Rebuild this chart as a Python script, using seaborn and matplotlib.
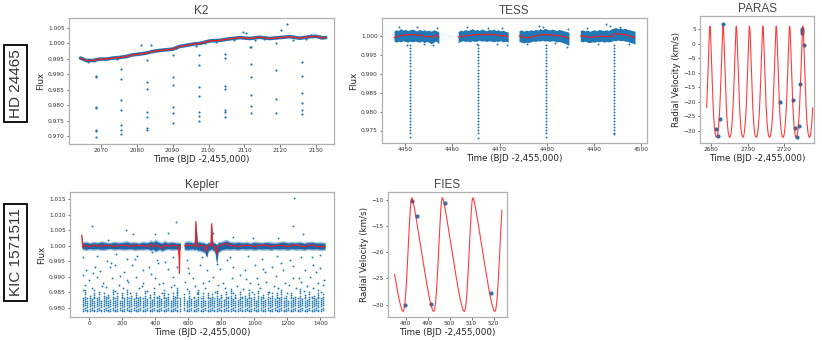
import numpy as np
import pandas as pd
import seaborn as sns
import matplotlib.pyplot as plt

sns.set_style("white")
plt.rcParams['font.family'] = ['DejaVu Sans']

BLUE = '#1f77b4'
CORE = '#1f64a6'
RED = '#ff1a1a'

# ---------------- K2 (HD 24465) ----------------
k2_trend_t = [2064.4, 2066.0, 2067.9, 2069.7, 2071.6, 2073.4, 2075.3, 2077.1, 2079.0, 2080.8, 2082.7,
              2084.5, 2086.4, 2088.3, 2090.1, 2092.0, 2093.8, 2095.7, 2097.6, 2100.3, 2103.1, 2105.9,
              2108.7, 2111.5, 2114.2, 2117.0, 2119.8, 2122.6, 2125.4, 2128.2, 2130.0, 2131.5, 2132.6]
k2_trend_f = [0.99525, 0.99447, 0.99447, 0.99492, 0.99492, 0.99525, 0.99545, 0.99577, 0.99632, 0.99655, 0.99687,
              0.9974, 0.99773, 0.99795, 0.99817, 0.99903, 0.99935, 0.9998, 1.0000, 1.0008, 1.0010, 1.0015,
              1.0019, 1.0016, 1.0020, 1.0016, 1.0019, 1.0022, 1.0017, 1.0022, 1.0023, 1.0018, 1.0019]
k2_scatter_t = [2065.0, 2066.5, 2068.2, 2072.0, 2074.5, 2078.3, 2081.1, 2084.1, 2087.0, 2091.0, 2094.0, 2096.5,
                2099.0, 2102.0, 2104.0, 2107.0, 2109.6, 2110.3, 2111.6, 2113.0, 2115.5, 2118.9, 2120.1, 2121.9,
                2123.5, 2125.0, 2127.0, 2128.6, 2131.0]
k2_scatter_f = [0.9951, 0.9941, 0.9942, 0.9953, 0.9949, 0.9962, 0.99935, 0.9994, 0.9979, 0.9985, 0.9997, 0.9992,
                1.0003, 1.0005, 1.0013, 1.0012, 1.0037, 1.0034, 0.9987, 1.0012, 1.0015, 1.0003, 1.0045, 1.0064,
                1.0012, 1.0021, 1.0014, 1.0026, 1.0023]
k2_ecl_t = [2068.6, 2075.8, 2083.0, 2090.1, 2097.4, 2104.5, 2111.7, 2118.9, 2126.0]
k2_ecl_f = [[0.9895, 0.9891, 0.9793, 0.9790, 0.9719, 0.9716, 0.96955],
            [0.99167, 0.98852, 0.9817, 0.97844, 0.97345, 0.97194, 0.97053],
            [0.99449, 0.98744, 0.98516, 0.97768, 0.97627, 0.97248, 0.97204],
            [0.99611, 0.98917, 0.98657, 0.97942, 0.97758, 0.97432],
            [0.99622, 0.99308, 0.98603, 0.98289, 0.9779, 0.97649, 0.97497],
            [0.99665, 0.99524, 0.98625, 0.98516, 0.97844, 0.9779, 0.97606],
            [0.99871, 0.9934, 0.98907, 0.98332, 0.97974, 0.97758],
            [0.99145, 0.98213, 0.97758],
            [0.99383, 0.9894, 0.98386, 0.98083, 0.97833, 0.97714]]

# ---------------- TESS (HD 24465) ----------------
tess_seg_t = [[4447.6, 4448.0, 4448.5, 4449.0, 4449.5, 4450.0, 4450.5, 4451.0, 4451.5, 4452.0, 4452.5, 4453.0,
               4453.5, 4454.0, 4454.5, 4455.0, 4455.5, 4456.0, 4456.5, 4457.1],
              [4461.2, 4461.7, 4462.2, 4462.7, 4463.2, 4463.7, 4464.2, 4464.7, 4465.2, 4465.7, 4466.2, 4466.7,
               4467.2, 4467.7, 4468.2, 4468.7, 4469.2, 4469.7, 4470.2, 4470.7, 4471.2, 4471.8],
              [4474.1, 4474.6, 4475.1, 4475.6, 4476.1, 4476.6, 4477.1, 4477.6, 4478.1, 4478.6, 4479.1, 4479.6,
               4480.1, 4480.6, 4481.1, 4481.6, 4482.1, 4482.6, 4483.1, 4483.6, 4484.1, 4484.7],
              [4487.1, 4487.6, 4488.1, 4488.6, 4489.1, 4489.6, 4490.1, 4490.6, 4491.1, 4491.6, 4492.1, 4492.6,
               4493.1, 4493.6, 4494.1, 4494.6, 4495.1, 4495.6, 4496.1, 4496.6, 4497.1, 4497.6, 4498.1, 4498.7]]
tess_seg_up = [[1.0012, 1.0016, 1.0014, 1.0019, 1.0015, 1.0017, 1.0014, 1.0016, 1.0018, 1.0015, 1.0013, 1.0017,
                1.0014, 1.0016, 1.0013, 1.0015, 1.0012, 1.0016, 1.0014, 1.0010],
               [1.0011, 1.0015, 1.0013, 1.0017, 1.0014, 1.0016, 1.0019, 1.0015, 1.0017, 1.0014, 1.0018, 1.0016,
                1.0013, 1.0017, 1.0015, 1.0018, 1.0014, 1.0016, 1.0013, 1.0015, 1.0012, 1.0010],
               [1.0013, 1.0016, 1.0012, 1.0015, 1.0013, 1.0016, 1.0014, 1.0017, 1.0015, 1.0019, 1.0016, 1.0020,
                1.0017, 1.0015, 1.0018, 1.0016, 1.0014, 1.0017, 1.0015, 1.0013, 1.0012, 1.0009],
               [1.0014, 1.0016, 1.0013, 1.0015, 1.0012, 1.0014, 1.0016, 1.0013, 1.0017, 1.0015, 1.0014, 1.0016,
                1.0014, 1.0018, 1.0020, 1.0022, 1.0019, 1.0021, 1.0018, 1.0020, 1.0017, 1.0016, 1.0014, 1.0012]]
tess_seg_lo = [[0.9986, 0.9983, 0.9986, 0.9984, 0.9987, 0.9985, 0.9983, 0.9986, 0.9984, 0.9986, 0.9985, 0.9983,
                0.9986, 0.9982, 0.9985, 0.9983, 0.9979, 0.9983, 0.9986, 0.9979],
               [0.9982, 0.9985, 0.9987, 0.9985, 0.9986, 0.9984, 0.9987, 0.9985, 0.9986, 0.9988, 0.9986, 0.9987,
                0.9985, 0.9987, 0.9986, 0.9984, 0.9986, 0.9985, 0.9987, 0.9984, 0.9986, 0.9983],
               [0.9985, 0.9983, 0.9981, 0.9983, 0.9982, 0.9984, 0.9986, 0.9985, 0.9987, 0.9986, 0.9988, 0.9986,
                0.9987, 0.9985, 0.9987, 0.9986, 0.9984, 0.9985, 0.9983, 0.9981, 0.9978, 0.9975],
               [0.9985, 0.9984, 0.9986, 0.9983, 0.9982, 0.9984, 0.9983, 0.9985, 0.9984, 0.9986, 0.9983, 0.9985,
                0.9984, 0.9985, 0.9988, 0.9987, 0.9989, 0.9987, 0.9988, 0.9986, 0.9985, 0.9983, 0.9981, 0.9978]]
tess_out_t = [4448.6, 4450.3, 4452.4, 4453.9, 4455.8, 4456.7, 4463.0, 4465.1, 4467.6, 4469.4, 4470.6, 4471.5,
              4475.9, 4478.4, 4479.3, 4481.7, 4484.2, 4484.6, 4488.5, 4490.9, 4492.6, 4493.3, 4495.6, 4497.4]
tess_out_f = [1.0022, 0.9977, 1.0024, 0.9978, 0.9976, 1.0020, 1.0023, 0.9979, 1.0021, 0.9978, 1.0020, 0.9977,
              0.9979, 1.0025, 1.0022, 0.9980, 0.9971, 1.0019, 1.0021, 0.9978, 1.0030, 1.0027, 1.0024, 0.9978]
tess_model_t = [[4447.6, 4448.5, 4449.5, 4450.5, 4451.5, 4452.5, 4453.5, 4454.2, 4455.0, 4455.8, 4456.5, 4457.1],
                [4461.2, 4462.0, 4463.0, 4464.0, 4465.0, 4466.0, 4467.0, 4468.0, 4469.0, 4470.0, 4471.0, 4471.8],
                [4474.1, 4475.0, 4476.0, 4477.0, 4478.0, 4479.0, 4480.0, 4481.0, 4482.0, 4483.0, 4484.0, 4484.7],
                [4487.1, 4488.0, 4489.0, 4490.0, 4491.0, 4492.0, 4493.0, 4493.8, 4494.3, 4495.0, 4496.0, 4497.0,
                 4498.0, 4498.7]]
tess_model_f = [[0.9995, 0.9999, 1.0002, 1.0003, 1.0003, 1.0002, 1.0001, 0.9997, 0.9999, 0.9996, 1.0002, 0.9996],
                [0.9996, 0.9999, 1.0000, 1.0002, 1.0003, 1.0003, 1.0004, 1.0004, 1.0003, 1.0000, 1.0001, 0.9997],
                [1.0000, 0.9996, 0.9995, 0.9998, 1.0001, 1.0003, 1.0003, 1.0002, 1.0001, 0.9999, 0.9997, 0.9993],
                [1.0000, 0.9999, 0.9996, 0.9997, 0.9999, 0.9998, 0.9999, 0.9998, 1.0005, 1.0005, 1.0004, 1.0002,
                 0.9998, 0.9994]]
tess_dip_t = [4451.0, 4465.4, 4479.8, 4494.2]
tess_dip_min = [0.9733, 0.9731, 0.9734, 0.9742]
tess_dip_levels = [0.9975, 0.9967, 0.9959, 0.9951, 0.9943, 0.9935, 0.9927, 0.9919, 0.9911, 0.9903, 0.9895,
                   0.9887, 0.9879, 0.9871, 0.9863, 0.9855, 0.9847, 0.9839, 0.9831, 0.9823, 0.9815, 0.9807,
                   0.9799, 0.9791, 0.9783, 0.9775, 0.9767, 0.9759, 0.9751, 0.9744]

# ---------------- PARAS RVs (HD 24465) ----------------
paras_t = [2682.7, 2683.8, 2684.7, 2686.6, 2717.5, 2724.9, 2725.9, 2726.8, 2728.1, 2728.8, 2729.7, 2729.7,
           2729.7, 2730.6]
paras_rv = [-29.5, -31.7, -25.9, 6.7, -20.0, -19.4, -29.0, -32.3, -28.4, -14.0, 4.9, 4.3, 3.7, -0.4]
paras_peaks = [2672.2, 2679.4, 2686.6, 2693.8, 2701.0, 2708.3, 2715.6, 2722.9, 2730.1, 2737.3]
paras_cycle_dt = [-3.6, -3.24, -2.88, -2.52, -2.16, -1.8, -1.44, -1.08, -0.72, -0.36, -0.18, 0.0,
                  0.18, 0.36, 0.72, 1.08, 1.44, 1.8, 2.16, 2.52, 2.88, 3.24]
paras_cycle_rv = [-32.3, -31.9, -30.9, -28.9, -26.0, -22.0, -16.7, -10.1, -3.0, 3.4, 5.3, 6.0,
                  5.3, 3.4, -3.0, -10.1, -16.7, -22.0, -26.0, -28.9, -30.9, -31.9]
paras_span = [2677.6, 2735.6]

# ---------------- Kepler (KIC 1571511) ----------------
kep_band_t = [[-46, -40, -20, 0, 25, 50, 75, 100, 125, 150, 175, 200, 225, 250, 275, 300, 325, 350, 375, 385,
               400, 425, 440, 455, 475, 500, 525, 552],
              [575, 600, 625, 640, 645, 648, 655, 680, 700, 706, 712, 720, 735, 740, 743, 748, 760, 768, 772,
               780, 800, 830, 850, 875, 900, 925, 950, 975, 1000, 1025, 1050, 1075, 1100, 1125, 1150, 1175,
               1200, 1225, 1250, 1275, 1300, 1325, 1350, 1375, 1400, 1428]]
# outer (light) envelope of the dense band
kep_band_up = [[1.0040, 1.0014, 1.0016, 1.0012, 1.0015, 1.0013, 1.0017, 1.0014, 1.0012, 1.0016, 1.0013, 1.0015,
                1.0018, 1.0013, 1.0015, 1.0012, 1.0016, 1.0014, 1.0020, 1.0016, 1.0022, 1.0015, 1.0012, 1.0019,
                1.0014, 1.0016, 1.0013, 1.0012],
               [1.0015, 1.0018, 1.0014, 1.0016, 1.0080, 1.0060, 1.0017, 1.0015, 1.0012, 1.0008, 1.0010, 1.0014,
                1.0016, 1.0074, 1.0050, 1.0016, 1.0012, 1.0008, 1.0006, 1.0014, 1.0016, 1.0022, 1.0016, 1.0014,
                1.0016, 1.0013, 1.0015, 1.0012, 1.0016, 1.0014, 1.0013, 1.0016, 1.0014, 1.0012, 1.0015, 1.0017,
                1.0013, 1.0015, 1.0014, 1.0016, 1.0012, 1.0015, 1.0016, 1.0013, 1.0014, 1.0012]]
kep_band_lo = [[0.9992, 0.9986, 0.9984, 0.9987, 0.9985, 0.9987, 0.9984, 0.9986, 0.9988, 0.9985, 0.9987, 0.9985,
                0.9986, 0.9987, 0.9984, 0.9986, 0.9985, 0.9987, 0.9982, 0.9986, 0.9979, 0.9985, 0.9980, 0.9984,
                0.9987, 0.9985, 0.9986, 0.9984],
               [0.9985, 0.9984, 0.9986, 0.9983, 0.9986, 0.9985, 0.9982, 0.9980, 0.9975, 0.9968, 0.9962, 0.9980,
                0.9984, 0.9986, 0.9985, 0.9982, 0.9978, 0.9950, 0.9940, 0.9976, 0.9983, 0.9986, 0.9985, 0.9986,
                0.9984, 0.9987, 0.9985, 0.9986, 0.9984, 0.9987, 0.9985, 0.9986, 0.9984, 0.9987, 0.9985, 0.9986,
                0.9984, 0.9987, 0.9985, 0.9986, 0.9984, 0.9987, 0.9985, 0.9986, 0.9984, 0.9985]]
# dark core of the dense band
kep_core_up = [[1.0038, 1.0009, 1.0011, 1.0008, 1.0010, 1.0009, 1.0012, 1.0009, 1.0008, 1.0011, 1.0009, 1.0010,
                1.0012, 1.0009, 1.0010, 1.0008, 1.0011, 1.0009, 1.0014, 1.0011, 1.0016, 1.0010, 1.0008, 1.0013,
                1.0009, 1.0011, 1.0009, 1.0008],
               [1.0010, 1.0012, 1.0009, 1.0011, 1.0080, 1.0060, 1.0012, 1.0010, 1.0008, 1.0005, 1.0007, 1.0009,
                1.0011, 1.0074, 1.0050, 1.0011, 1.0008, 1.0005, 1.0004, 1.0009, 1.0011, 1.0016, 1.0011, 1.0009,
                1.0011, 1.0009, 1.0010, 1.0008, 1.0011, 1.0009, 1.0009, 1.0011, 1.0009, 1.0008, 1.0010, 1.0012,
                1.0009, 1.0010, 1.0009, 1.0011, 1.0008, 1.0010, 1.0011, 1.0009, 1.0009, 1.0008]]
kep_core_lo = [[0.9994, 0.9991, 0.9989, 0.9991, 0.9990, 0.9991, 0.9989, 0.9990, 0.9992, 0.9990, 0.9991, 0.9990,
                0.9990, 0.9991, 0.9989, 0.9990, 0.9990, 0.9991, 0.9987, 0.9990, 0.9984, 0.9990, 0.9985, 0.9989,
                0.9991, 0.9990, 0.9990, 0.9989],
               [0.9990, 0.9989, 0.9991, 0.9988, 0.9990, 0.9990, 0.9987, 0.9985, 0.9980, 0.9970, 0.9964, 0.9985,
                0.9989, 0.9990, 0.9990, 0.9987, 0.9983, 0.9955, 0.9943, 0.9981, 0.9988, 0.9991, 0.9990, 0.9991,
                0.9989, 0.9991, 0.9990, 0.9991, 0.9989, 0.9991, 0.9990, 0.9991, 0.9989, 0.9991, 0.9990, 0.9991,
                0.9989, 0.9991, 0.9990, 0.9991, 0.9989, 0.9991, 0.9990, 0.9991, 0.9989, 0.9990]]
kep_model_t = [[-46, -43, -38, -25, 0, 30, 60, 100, 150, 200, 250, 300, 350, 378, 385, 400, 420, 440, 455, 480,
                510, 538, 544, 546, 549, 552],
               [575, 600, 630, 642, 645, 649, 655, 680, 700, 706, 712, 725, 737, 741, 745, 755, 765, 771, 777,
                800, 830, 850, 900, 950, 1000, 1050, 1100, 1150, 1200, 1250, 1300, 1340, 1380, 1428]]
kep_model_f = [[1.0035, 1.0010, 0.9996, 1.0002, 0.9997, 1.0003, 0.9998, 1.0002, 0.9998, 1.0002, 0.9999, 1.0002,
                0.9998, 1.0005, 0.9996, 1.0002, 0.9999, 0.9992, 1.0003, 0.9998, 1.0002, 1.0000, 0.9960, 0.9911,
                0.9995, 1.0000],
               [1.0000, 1.0003, 0.9999, 1.0002, 1.0079, 1.0004, 0.9998, 1.0002, 0.9997, 0.9982, 0.9997, 1.0003,
                1.0001, 1.0072, 1.0001, 0.9996, 0.9990, 0.9975, 0.9998, 1.0003, 1.0008, 1.0001, 0.9998, 1.0002,
                0.9998, 1.0003, 0.9998, 1.0002, 0.9998, 1.0003, 0.9997, 1.0003, 0.9998, 0.9997]]
kep_hi_t = [18, 115, 222, 262, 400, 474, 525, 750, 872, 993, 1144, 1231, 1241, 1295]
kep_hi_f = [1.0063, 1.0019, 1.0051, 1.0037, 1.0037, 1.0040, 1.0076, 1.0043, 1.0029, 1.0024, 1.0024, 1.0065,
            1.0156, 1.0037]
kep_mid_t = [-36, 44, 109, 161, 226, 291, 377, 408, 508, 589, 680, 771, 851, 962, 1043, 1134, 1215, 1285, 1346, 1396,
             -20, 34, 65, 125, 155, 210, 256, 327, 363, 418, 478, 529, 599, 670, 714, 791, 872, 942, 1003, 1053,
             1104, 1174, 1235, 1305, 1356, 1400,
             -36, 0, 48, 85, 137, 186, 236, 282, 327, 397, 448, 508, 580, 630, 690, 751, 807, 862, 912, 973, 1013,
             1073, 1130, 1184, 1235, 1285, 1336, 1386, 1420,
             -40, 14, 61, 101, 155, 202, 246, 303, 347, 391, 438, 492, 529, 589, 650, 700, 761, 821, 872, 928, 983,
             1033, 1090, 1144, 1195, 1251, 1299, 1356, 1406,
             -28, 22, 78, 131, 178, 231, 275, 318, 372, 425, 461, 515, 604, 641, 722, 779, 836, 893, 948, 1019,
             1062, 1117, 1160, 1210, 1267, 1321, 1370, 1414]
kep_mid_f = [0.9963, 0.9967, 0.9951, 0.9973, 0.9956, 0.9967, 0.9981, 0.9954, 0.9963, 0.9954, 0.9963, 0.9940,
             0.9963, 0.9967, 0.9956, 0.9967, 0.9954, 0.9963, 0.9963, 0.9970,
             0.9922, 0.9932, 0.9920, 0.9933, 0.9938, 0.9916, 0.9938, 0.9922, 0.9930, 0.9943, 0.9926, 0.9933,
             0.9927, 0.9938, 0.9922, 0.9924, 0.9933, 0.9922, 0.9938, 0.9924, 0.9933, 0.9922, 0.9935, 0.9922,
             0.9938, 0.9927,
             0.9906, 0.9889, 0.9900, 0.9879, 0.9895, 0.9902, 0.9884, 0.9900, 0.9879, 0.9895, 0.9879, 0.9900,
             0.9884, 0.9895, 0.9881, 0.9900, 0.9879, 0.9895, 0.9906, 0.9879, 0.9895, 0.9884, 0.9902, 0.9879,
             0.9895, 0.9884, 0.9900, 0.9879, 0.9889,
             0.9857, 0.9863, 0.9852, 0.9868, 0.9854, 0.9863, 0.9849, 0.9865, 0.9854, 0.9863, 0.9849, 0.9868,
             0.9852, 0.9860, 0.9849, 0.9863, 0.9852, 0.9865, 0.9849, 0.9860, 0.9852, 0.9865, 0.9851, 0.9863,
             0.9849, 0.9865, 0.9854, 0.9863, 0.9851,
             0.9873, 0.9911, 0.9869, 0.9946, 0.9875, 0.9891, 0.9958, 0.9871, 0.9909, 0.9876, 0.9948, 0.9872,
             0.9913, 0.9870, 0.9887, 0.9874, 0.9953, 0.9871, 0.9893, 0.9876, 0.9914, 0.9870, 0.9944, 0.9873,
             0.9897, 0.9871, 0.9916, 0.9874]
kep_ecl_t = [-40, -26, -12, 2, 16, 30, 44, 58, 72, 86, 100, 114, 128, 142, 156, 170, 184, 198, 212, 226, 240,
             254, 268, 282, 296, 310, 324, 338, 352, 366, 380, 394, 408, 422, 436, 450, 464, 478, 492, 506, 520,
             534, 548, 576, 590, 604, 618, 632, 646, 660, 674, 688, 702, 716, 730, 744, 758, 772, 786, 800, 814,
             828, 842, 856, 870, 884, 898, 912, 926, 940, 954, 968, 982, 996, 1010, 1024, 1038, 1052, 1066, 1080,
             1094, 1108, 1122, 1136, 1150, 1164, 1178, 1192, 1206, 1220, 1234, 1248, 1262, 1276, 1290, 1304, 1318,
             1332, 1346, 1360, 1374, 1388, 1402, 1416]
kep_ecl_top = [0.9838, 0.9862, 0.9831, 0.9845, 0.9829, 0.9856, 0.9834, 0.9849, 0.9827, 0.9852, 0.9836, 0.9843, 0.9830,
               0.9858, 0.9833, 0.9847, 0.9828, 0.9851, 0.9837, 0.9864, 0.9832, 0.9844, 0.9829, 0.9855, 0.9835, 0.9841,
               0.9831, 0.9859, 0.9834, 0.9846, 0.9827, 0.9853, 0.9838, 0.9842, 0.9830, 0.9857, 0.9833, 0.9848, 0.9829,
               0.9850, 0.9836, 0.9863, 0.9832, 0.9845, 0.9828, 0.9854, 0.9835, 0.9840, 0.9831, 0.9860, 0.9834, 0.9847,
               0.9827, 0.9852, 0.9837, 0.9843, 0.9830, 0.9858, 0.9833, 0.9846, 0.9829, 0.9851, 0.9836, 0.9865, 0.9832,
               0.9844, 0.9828, 0.9855, 0.9835, 0.9841, 0.9831, 0.9859, 0.9834, 0.9848, 0.9827, 0.9853, 0.9838, 0.9842,
               0.9830, 0.9857, 0.9833, 0.9847, 0.9829, 0.9850, 0.9836, 0.9862, 0.9832, 0.9845, 0.9828, 0.9854, 0.9835,
               0.9840, 0.9831, 0.9860, 0.9834, 0.9846, 0.9827, 0.9852, 0.9837, 0.9843, 0.9830, 0.9856, 0.9833, 0.9849]
kep_ecl_levels = [[0.9790, 0.9797, 0.9804, 0.9811, 0.9818, 0.9825, 0.9832, 0.9839, 0.9846, 0.9853, 0.9860],
                  [0.9793, 0.9800, 0.9808, 0.9814, 0.9821, 0.9829, 0.9836, 0.9843, 0.9851, 0.9858],
                  [0.9789, 0.9794, 0.9802, 0.9809, 0.9816, 0.9823, 0.9830, 0.9835, 0.9842, 0.9849, 0.9856, 0.9863]]

# ---------------- FIES RVs (KIC 1571511) ----------------
fies_t = [479.8, 482.8, 485.0, 491.6, 497.8, 518.9]
fies_rv = [-30.0, -10.25, -13.2, -29.8, -10.6, -27.7]
fies_troughs = [465.0, 478.9, 492.8, 506.7, 520.6]
fies_cycle_dt = [0.0, 0.4, 0.8, 1.2, 1.6, 2.0, 2.4, 2.8, 3.2, 3.5, 3.8, 4.1, 4.5, 5.0, 6.0, 7.0, 8.0, 9.0,
                 10.0, 11.0, 12.0, 12.8, 13.4]
fies_cycle_rv = [-31.3, -30.9, -29.7, -27.6, -24.8, -21.6, -18.2, -14.9, -12.0, -10.4, -9.7, -9.7, -10.3,
                 -11.4, -13.8, -16.4, -19.0, -21.6, -24.2, -26.7, -28.9, -30.3, -31.1]
fies_span = [474.5, 523.9]


def model_curve(epochs, dts, rvs, span):
    rows = [(e + d, r) for e in epochs for d, r in zip(dts, rvs)]
    df = pd.DataFrame(rows, columns=['t', 'rv']).sort_values('t')
    return df[(df.t >= span[0]) & (df.t <= span[1])]


def segments(ts, fs):
    return pd.DataFrame([(i, t, f) for i, (tt, ff) in enumerate(zip(ts, fs)) for t, f in zip(tt, ff)],
                        columns=['seg', 't', 'f'])


def style(ax, title, ylabel, xlim, ylim):
    ax.set_xlim(*xlim)
    ax.set_ylim(*ylim)
    ax.set_title(title, fontsize=8.5, color='#444444', pad=3, family='Liberation Sans')
    ax.set_xlabel('Time (BJD -2,455,000)', fontsize=6.3, color='#222222', labelpad=1.5)
    ax.set_ylabel(ylabel, fontsize=6.3, color='#222222', labelpad=2)
    ax.tick_params(labelsize=4.2, length=1.8, width=0.5, pad=1.2, colors='#333333',
                   bottom=True, left=True)
    ax.ticklabel_format(useOffset=False)
    for sp in ax.spines.values():
        sp.set_color('#b0b0b0')
        sp.set_linewidth(0.9)


fig = plt.figure(figsize=(8.22, 3.40), dpi=100)
W, H = 822.0, 340.0
ax_k2 = fig.add_axes([69 / W, 1 - 144 / H, 265 / W, 126 / H])
ax_tess = fig.add_axes([382 / W, 1 - 143 / H, 265 / W, 125 / H])
ax_paras = fig.add_axes([700 / W, 1 - 143 / H, 114 / W, 127 / H])
ax_kep = fig.add_axes([70 / W, 1 - 317 / H, 264 / W, 125 / H])
ax_fies = fig.add_axes([388 / W, 1 - 317 / H, 119 / W, 125 / H])

# K2
sns.lineplot(x=k2_trend_t, y=k2_trend_f, color=BLUE, lw=2.6, ax=ax_k2)
sns.scatterplot(x=k2_scatter_t, y=k2_scatter_f, color=BLUE, s=2.5, linewidth=0, ax=ax_k2)
ecl = pd.DataFrame([(t, f) for t, ff in zip(k2_ecl_t, k2_ecl_f) for f in ff], columns=['t', 'f'])
sns.scatterplot(data=ecl, x='t', y='f', color=BLUE, s=2.5, linewidth=0, ax=ax_k2)
sns.lineplot(x=k2_trend_t, y=k2_trend_f, color=RED, lw=0.9, ax=ax_k2)
style(ax_k2, 'K2', 'Flux', (2061.2, 2134.9), (0.9674, 1.00825))
ax_k2.set_xticks([2070, 2080, 2090, 2100, 2110, 2120, 2130])
ax_k2.set_yticks([0.970, 0.975, 0.980, 0.985, 0.990, 0.995, 1.000, 1.005])

# TESS
for tt, up, lo in zip(tess_seg_t, tess_seg_up, tess_seg_lo):
    ax_tess.fill_between(tt, lo, up, color=BLUE, linewidth=0)
sns.scatterplot(x=tess_out_t, y=tess_out_f, color=BLUE, s=2, linewidth=0, ax=ax_tess)
dips = pd.DataFrame([(t, f) for t, m in zip(tess_dip_t, tess_dip_min)
                     for f in tess_dip_levels + [m] if f >= m], columns=['t', 'f'])
sns.scatterplot(data=dips, x='t', y='f', color=BLUE, s=2, linewidth=0, ax=ax_tess)
sns.lineplot(data=segments(tess_model_t, tess_model_f), x='t', y='f', units='seg', estimator=None,
             sort=False, color=RED, lw=0.8, ax=ax_tess)
style(ax_tess, 'TESS', 'Flux', (4445.05, 4501.25), (0.9717, 1.0047))
ax_tess.set_xticks([4450, 4460, 4470, 4480, 4490, 4500])
ax_tess.set_yticks([0.975, 0.980, 0.985, 0.990, 0.995, 1.000])

# PARAS
pm = model_curve(paras_peaks, paras_cycle_dt, paras_cycle_rv, paras_span)
sns.lineplot(data=pm, x='t', y='rv', sort=False, estimator=None, color=RED, lw=0.8, alpha=0.85, ax=ax_paras)
sns.scatterplot(x=paras_t, y=paras_rv, color=BLUE, s=9, linewidth=0, ax=ax_paras)
style(ax_paras, 'PARAS', 'Radial Velocity (km/s)', (2674.0, 2736.2), (-34.2, 9.5))
ax_paras.set_xticks([2680, 2700, 2720])
ax_paras.set_yticks([5, 0, -5, -10, -15, -20, -25, -30])

# Kepler
ke = pd.DataFrame([(t, f) for i, (t, top) in enumerate(zip(kep_ecl_t, kep_ecl_top))
                   for f in kep_ecl_levels[i % 3] if f <= top], columns=['t', 'f'])
sns.scatterplot(data=ke, x='t', y='f', color=BLUE, s=1.6, linewidth=0, ax=ax_kep)
sns.scatterplot(x=kep_mid_t, y=kep_mid_f, color=BLUE, s=1.8, linewidth=0, ax=ax_kep)
sns.scatterplot(x=kep_hi_t, y=kep_hi_f, color=BLUE, s=1.8, linewidth=0, ax=ax_kep)
for tt, up, lo in zip(kep_band_t, kep_band_up, kep_band_lo):
    ax_kep.fill_between(tt, lo, up, color=BLUE, alpha=0.45, linewidth=0)
for tt, up, lo in zip(kep_band_t, kep_core_up, kep_core_lo):
    ax_kep.fill_between(tt, lo, up, color=CORE, linewidth=0)
sns.lineplot(data=segments(kep_model_t, kep_model_f), x='t', y='f', units='seg', estimator=None,
             sort=False, color=RED, lw=0.8, ax=ax_kep)
style(ax_kep, 'Kepler', 'Flux', (-117, 1482), (0.9770, 1.0174))
ax_kep.set_xticks([0, 200, 400, 600, 800, 1000, 1200, 1400])
ax_kep.set_yticks([0.980, 0.985, 0.990, 0.995, 1.000, 1.005, 1.010, 1.015])

# FIES
fm = model_curve(fies_troughs, fies_cycle_dt, fies_cycle_rv, fies_span)
sns.lineplot(data=fm, x='t', y='rv', sort=False, estimator=None, color=RED, lw=0.8, alpha=0.85, ax=ax_fies)
sns.scatterplot(x=fies_t, y=fies_rv, color=BLUE, s=9, linewidth=0, ax=ax_fies)
style(ax_fies, 'FIES', 'Radial Velocity (km/s)', (472.0, 526.1), (-32.35, -8.54))
ax_fies.set_xticks([480, 490, 500, 510, 520])
ax_fies.set_yticks([-10, -15, -20, -25, -30])

box = dict(boxstyle='square,pad=0.3', fc='white', ec='black', lw=1.3)
fig.text(15.5 / W, 1 - 83.5 / H, 'HD 24465', rotation=90, ha='center', va='center', fontsize=11,
         family='Liberation Sans', color='#333333', bbox=box)
fig.text(15.5 / W, 1 - 252.5 / H, 'KIC 1571511', rotation=90, ha='center', va='center', fontsize=11,
         family='Liberation Sans', color='#333333', bbox=box)

fig.savefig('out.png', dpi=100)
